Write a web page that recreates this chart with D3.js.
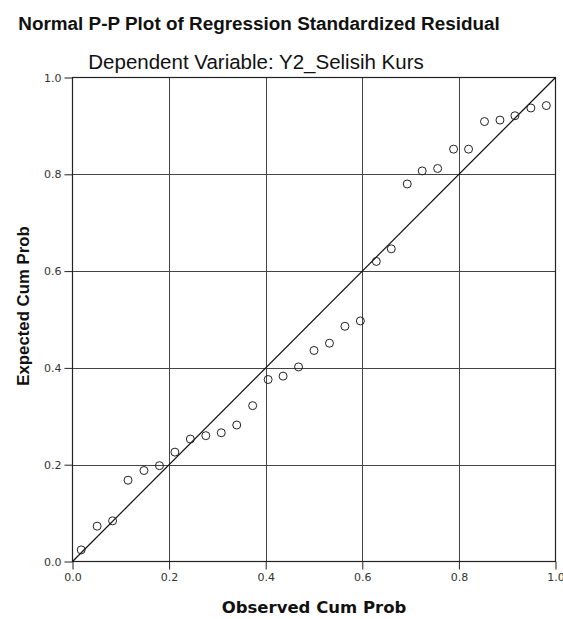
<!DOCTYPE html>
<html><head><meta charset="utf-8">
<script src="https://cdn.jsdelivr.net/npm/d3@7"></script>
<style>html,body{margin:0;padding:0;background:#fff;}</style>
</head><body>
<script>
const titleText = "Normal P-P Plot of Regression Standardized Residual";
const subtitleText = "Dependent Variable: Y2_Selisih Kurs";
const xTitle = "Observed Cum Prob";
const yTitle = "Expected Cum Prob";
const tickValues = [0, 0.2, 0.4, 0.6, 0.8, 1.0];
const observed = [0.018,0.051,0.083,0.115,0.148,0.180,0.212,0.244,0.276,0.308,0.340,0.373,0.405,0.436,0.468,0.500,0.532,0.564,0.596,0.629,0.660,0.693,0.724,0.756,0.789,0.820,0.853,0.885,0.916,0.949,0.981];
const expected = [0.024,0.073,0.084,0.168,0.188,0.198,0.226,0.253,0.260,0.266,0.282,0.322,0.376,0.383,0.402,0.436,0.451,0.486,0.497,0.620,0.646,0.780,0.807,0.812,0.852,0.852,0.909,0.912,0.921,0.937,0.942];

const W = 563, H = 619;
const svg = d3.select("body").append("svg").attr("width", W).attr("height", H);
const x = d3.scaleLinear().domain([0,1]).range([72.5, 555.5]);
const y = d3.scaleLinear().domain([0,1]).range([561.5, 77.5]);

// grid
const g = svg.append("g");
g.selectAll(".vg").data(tickValues.slice(1,5)).enter().append("line")
  .attr("x1", d=>Math.round(x(d))+0.5).attr("x2", d=>Math.round(x(d))+0.5)
  .attr("y1", y(1)).attr("y2", y(0)).attr("stroke", "#444").attr("stroke-width", 1);
g.selectAll(".hg").data(tickValues.slice(1,5)).enter().append("line")
  .attr("y1", d=>Math.round(y(d))+0.5).attr("y2", d=>Math.round(y(d))+0.5)
  .attr("x1", x(0)).attr("x2", x(1)).attr("stroke", "#444").attr("stroke-width", 1);

// axes
const xAxis = d3.axisBottom(x).tickValues(tickValues).tickFormat(d3.format(".1f")).tickSize(8).tickPadding(4);
const yAxis = d3.axisLeft(y).tickValues(tickValues).tickFormat(d3.format(".1f")).tickSize(8).tickPadding(3);
const gx = svg.append("g").attr("transform", `translate(0,${y(0)})`).call(xAxis);
const gy = svg.append("g").attr("transform", `translate(${x(0)},0)`).call(yAxis);
[gx, gy].forEach(a => {
  a.select(".domain").remove();
  a.selectAll(".tick line").attr("stroke", "#222");
  a.selectAll(".tick text").attr("fill", "#333").style("font-family", "DejaVu Sans").style("font-size", "11px");
});

// frame
svg.append("rect").attr("x", x(0)).attr("y", y(1)).attr("width", x(1)-x(0)).attr("height", y(0)-y(1))
  .attr("fill", "none").attr("stroke", "#222").attr("stroke-width", 1.2);

// diagonal
svg.append("line").attr("x1", x(0)).attr("y1", y(0)).attr("x2", x(1)).attr("y2", y(1))
  .attr("stroke", "#111").attr("stroke-width", 1.2);

// points
svg.selectAll(".pt").data(observed.map((o,i)=>[o, expected[i]])).enter().append("circle")
  .attr("cx", d=>x(d[0])).attr("cy", d=>y(d[1])).attr("r", 4)
  .attr("fill", "none").attr("stroke", "#222").attr("stroke-width", 1);

// titles
svg.append("text").attr("x", 259).attr("y", 30).attr("text-anchor", "middle")
  .style("font-family", "Liberation Sans, Arial").style("font-weight", "bold").style("font-size", "18.9px")
  .attr("fill", "#111").text(titleText);
svg.append("text").attr("x", 256).attr("y", 69).attr("text-anchor", "middle")
  .style("font-family", "Liberation Sans, Arial").style("font-size", "20.5px")
  .attr("fill", "#111").text(subtitleText);
svg.append("text").attr("x", 314).attr("y", 613).attr("text-anchor", "middle")
  .style("font-family", "DejaVu Sans").style("font-weight", "bold").style("font-size", "16.5px")
  .attr("fill", "#111").text(xTitle);
svg.append("text").attr("transform", "translate(29,306) rotate(-90)").attr("text-anchor", "middle")
  .style("font-family", "Liberation Sans, Arial").style("font-weight", "bold").style("font-size", "16.8px")
  .attr("fill", "#111").text(yTitle);
</script>
</body></html>
